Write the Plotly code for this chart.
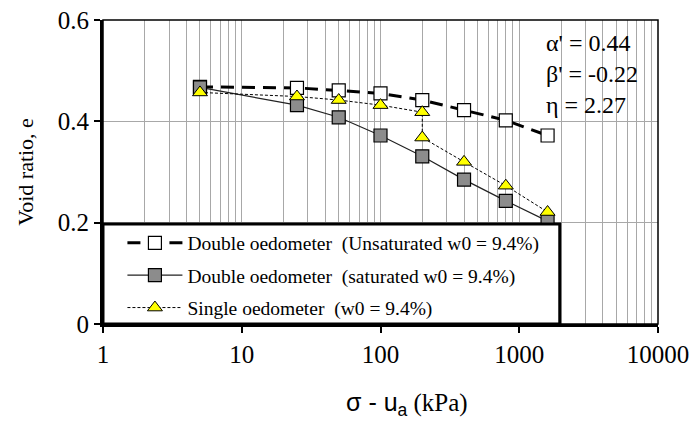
import plotly.graph_objects as go

# ---- data ----
stress = [5, 25, 50, 100, 200, 400, 800, 1600]
e_unsat = [0.468, 0.466, 0.461, 0.455, 0.442, 0.422, 0.402, 0.372]
e_sat = [0.467, 0.432, 0.408, 0.372, 0.331, 0.285, 0.243, 0.203]
stress_single = [5, 25, 50, 100, 200, 200, 400, 800, 1600]
e_single = [0.457, 0.449, 0.442, 0.432, 0.418, 0.368, 0.320, 0.273, 0.221]

x_tickvals = [1, 10, 100, 1000, 10000]
x_ticktext = ["1", "10", "100", "1000", "10000"]
y_tickvals = [0, 0.2, 0.4, 0.6]
y_ticktext = ["0", "0.2", "0.4", "0.6"]

names = [
    "Double oedometer  (Unsaturated w0 = 9.4%)",
    "Double oedometer  (saturated w0 = 9.4%)",
    "Single oedometer  (w0 = 9.4%)",
]
params_text = "α' = 0.44<br>β' = -0.22<br>η = 2.27"
x_title = "<span style=\"font-family:'Liberation Sans'\">σ - u<sub>a</sub></span> (kPa)"
y_title = "Void ratio, e"

SERIF = "Liberation Serif, Times New Roman, serif"
GRID = "#a8a8a8"

fig = go.Figure()
fig.add_trace(go.Scatter(
    x=stress, y=e_unsat, name=names[0], mode="lines+markers",
    line=dict(color="black", width=3, dash="13px,8px"),
    marker=dict(symbol="square", size=13, color="white",
                line=dict(color="black", width=1.2)),
    legendgroup="a",
))
fig.add_trace(go.Scatter(
    x=stress, y=e_sat, name=names[1], mode="lines+markers",
    line=dict(color="#222222", width=1.2),
    marker=dict(symbol="square", size=13, color="#8c8c8c",
                line=dict(color="black", width=1.2)),
    legendgroup="b",
))
fig.add_trace(go.Scatter(
    x=stress_single, y=e_single, name=names[2], mode="lines+markers",
    line=dict(color="black", width=1, dash="3px,2px"),
    marker=dict(symbol="triangle-up", size=13, color="#ffff00",
                line=dict(color="black", width=1)),
    legendgroup="c",
))

fig.update_layout(
    template="none",
    width=694, height=423,
    margin=dict(l=103, r=36, t=20, b=99, autoexpand=False),
    paper_bgcolor="white", plot_bgcolor="white",
    font=dict(family=SERIF, color="black", size=19),
    showlegend=True,
    legend=dict(
        x=0.035, y=0.33, xanchor="left", yanchor="top",
        bgcolor="rgba(0,0,0,0)", borderwidth=0,
        font=dict(family=SERIF, size=19.5, color="black"),
        itemwidth=55, tracegroupgap=4,
    ),
    xaxis=dict(
        type="log", range=[0, 4], automargin=False,
        tickvals=x_tickvals, ticktext=x_ticktext,
        tickfont=dict(family=SERIF, size=25, color="black"),
        ticklabeloverflow="allow",
        ticks="outside", ticklen=6, tickwidth=2, tickcolor="black",
        showgrid=True, gridcolor=GRID, gridwidth=1,
        minor=dict(dtick="D1", showgrid=True, gridcolor=GRID,
                   gridwidth=1, ticks=""),
        showline=True, linecolor="black", linewidth=3,
        zeroline=False,
    ),
    yaxis=dict(
        range=[0, 0.6], automargin=False,
        tickvals=y_tickvals, ticktext=y_ticktext,
        tickfont=dict(family=SERIF, size=25, color="black"),
        ticklabeloverflow="allow",
        ticks="outside", ticklen=6, tickwidth=2, tickcolor="black",
        showgrid=True, gridcolor=GRID, gridwidth=1,
        showline=True, linecolor="black", linewidth=3,
        zeroline=False,
        title=dict(text=y_title,
                   font=dict(family=SERIF, size=22, color="black"),
                   standoff=19),
    ),
    shapes=[
        # white box behind the parameter text (covers grid)
        dict(type="rect", xref="paper", yref="paper",
             x0=0.79, x1=1.0, y0=0.671, y1=1.0,
             fillcolor="white", line=dict(width=0), layer="between"),
        # frame
        dict(type="rect", xref="paper", yref="paper",
             x0=0, x1=1, y0=0, y1=1,
             line=dict(color="black", width=1.5), layer="above"),
        # legend box
        dict(type="rect", xref="paper", yref="paper",
             x0=0, x1=0.823, y0=0, y1=0.329,
             fillcolor="white", line=dict(color="black", width=3),
             layer="above"),
    ],
    annotations=[
        dict(text=params_text, xref="paper", yref="paper",
             x=0.795, y=0.975, xanchor="left", yanchor="top",
             align="left", showarrow=False,
             font=dict(family=SERIF, size=24, color="black")),
        dict(text=x_title, xref="paper", yref="paper",
             x=0.548, y=0, xanchor="center", yanchor="middle",
             yshift=-80, showarrow=False,
             font=dict(family=SERIF, size=25, color="black")),
    ],
)

fig.write_html(
    "out.html",
    config={"displayModeBar": False},
    post_script="document.body.style.margin='0';document.body.style.overflow='hidden';",
)
